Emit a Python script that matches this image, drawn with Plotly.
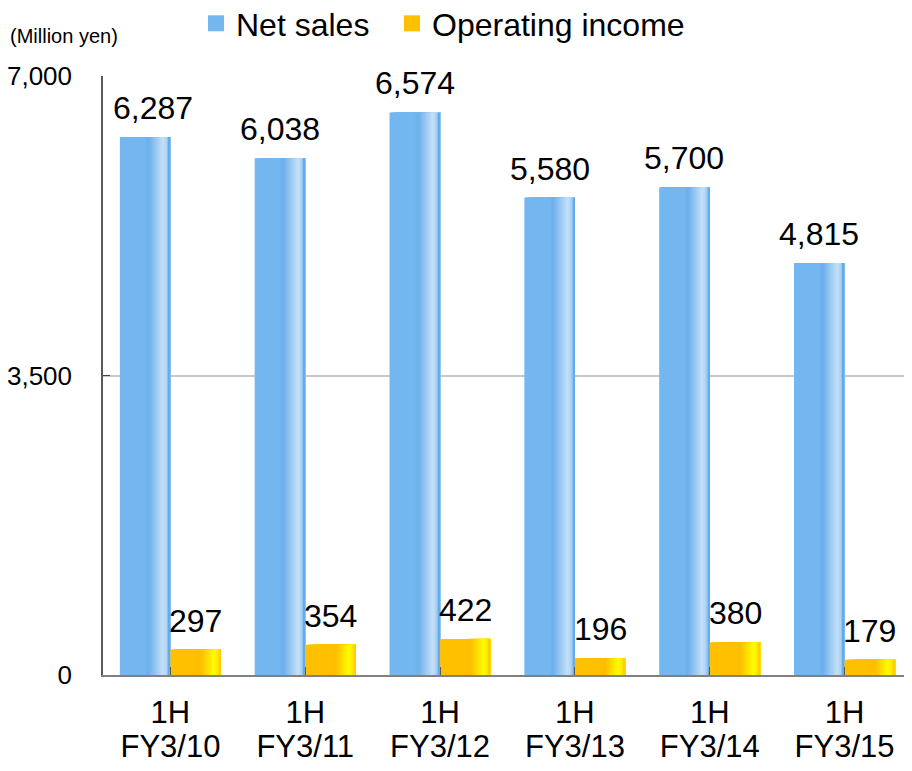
import plotly.graph_objects as go

# ---- data ----
categories = ["1H FY3/10", "1H FY3/11", "1H FY3/12", "1H FY3/13", "1H FY3/14", "1H FY3/15"]
tick_labels = ["1H<br>FY3/10", "1H<br>FY3/11", "1H<br>FY3/12", "1H<br>FY3/13", "1H<br>FY3/14", "1H<br>FY3/15"]
net_sales = [6287, 6038, 6574, 5580, 5700, 4815]
operating_income = [297, 354, 422, 196, 380, 179]
series_names = ["Net sales", "Operating income"]
y_tickvals = [0, 3500, 7000]
y_ticktext = ["0", "3,500", "7,000"]

FONT = "Liberation Sans, Arial, sans-serif"

# horizontal gradient stops (position, rgb)
blue_stops = [(0.0, (116, 183, 240)), (0.50, (116, 183, 240)), (0.56, (106, 174, 236)),
              (0.86, (198, 225, 248)), (0.93, (168, 208, 244)), (1.0, (80, 160, 232))]
gold_stops = [(0.0, (255, 192, 0)), (0.50, (255, 192, 0)), (0.60, (255, 188, 0)),
              (0.87, (255, 255, 0)), (1.0, (255, 200, 0))]


def interp(stops, t):
    for (p0, c0), (p1, c1) in zip(stops[:-1], stops[1:]):
        if p0 <= t <= p1:
            f = 0 if p1 == p0 else (t - p0) / (p1 - p0)
            c = [round(a + (b - a) * f) for a, b in zip(c0, c1)]
            return f"rgb({c[0]},{c[1]},{c[2]})"
    c = stops[-1][1]
    return f"rgb({c[0]},{c[1]},{c[2]})"


fig = go.Figure()
BAR_W = 0.375
N = 30
idx = list(range(len(categories)))
for values, start, stops in [(net_sales, -BAR_W, blue_stops), (operating_income, 0.0, gold_stops)]:
    d = BAR_W / N
    for i in range(N):
        off = start + i * d
        fig.add_trace(go.Bar(
            x=idx, y=values, offset=off, width=BAR_W - i * d,
            marker=dict(color=interp(stops, (i + 0.5) / N), line=dict(width=0)),
            showlegend=False, hoverinfo="skip"))

# legend entries (one legend box each, for spacing control)
for name, color, leg in zip(series_names, ["#74b7f0", "#ffc000"], ["legend", "legend2"]):
    fig.add_trace(go.Scatter(x=[None], y=[None], mode="markers", name=name, legend=leg,
                             marker=dict(symbol="square", size=16, color=color)))

# data labels
annotations = []
for i in idx:
    annotations.append(dict(x=i - BAR_W / 2, y=net_sales[i], text=f"{net_sales[i]:,}",
                            xref="x", yref="y", showarrow=False, yanchor="bottom",
                            yshift=9, xshift=8 if i == 0 else 0,
                            font=dict(size=32, family=FONT, color="black")))
    annotations.append(dict(x=i + BAR_W / 2, y=operating_income[i], text=f"{operating_income[i]:,}",
                            xref="x", yref="y", showarrow=False, yanchor="bottom",
                            yshift=9, font=dict(size=32, family=FONT, color="black")))
annotations.append(dict(x=(-95) / 809, y=1 + (76 - 36) / 599, xref="paper", yref="paper",
                        xanchor="left", yanchor="middle", showarrow=False,
                        text="(Million yen)", font=dict(size=20, family=FONT, color="black")))

tick_text_big = [f"<span style='font-size:31px'>{t.replace('<br>', '</span><br><span style=\"font-size:31px\">')}</span>"
                 for t in tick_labels]

leg_common = dict(orientation="h", xref="container", yref="container", xanchor="left",
                  yanchor="middle", y=1 - 15.5 / 763, bgcolor="rgba(0,0,0,0)",
                  font=dict(size=32, family=FONT, color="black"))

fig.update_layout(
    width=904, height=763,
    margin=dict(l=95, r=0, t=68, b=96, autoexpand=False),
    paper_bgcolor="white", plot_bgcolor="white",
    barmode="overlay",
    font=dict(family=FONT, color="black"),
    annotations=annotations,
    legend=dict(x=188 / 904, **leg_common),
    legend2=dict(x=384 / 904, **leg_common),
    xaxis=dict(range=[-0.5, 5.5], tickvals=idx, ticktext=tick_text_big,
               tickmode="array", ticks="inside", ticklen=8, tickcolor="#595959",
               showline=True, linecolor="#808080", linewidth=2,
               showgrid=False, zeroline=False, automargin=False,
               ticklabelstandoff=15,
               tickfont=dict(size=26, family=FONT, color="black")),
    yaxis=dict(range=[0, 7000], tickvals=y_tickvals, ticktext=y_ticktext,
               ticks="inside", ticklen=7, tickcolor="#404040",
               showline=True, linecolor="#595959", linewidth=1.5,
               showgrid=True, gridcolor="#c8c8c8", gridwidth=1.5, zeroline=False,
               ticklabelstandoff=24, automargin=False,
               tickfont=dict(size=26, family=FONT, color="black")),
)

fig.write_html("out.html")
